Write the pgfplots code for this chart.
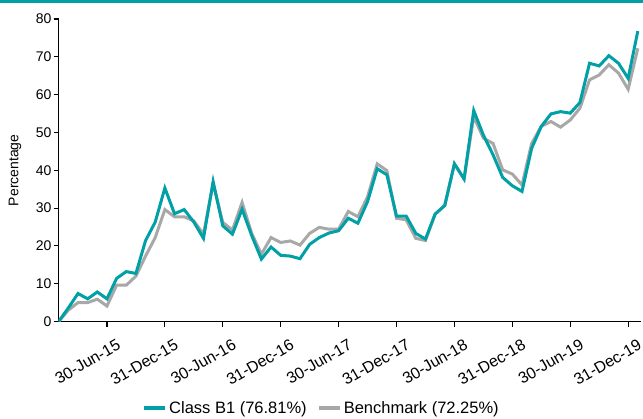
\documentclass[border=0pt]{standalone}
\usepackage{fontspec}
\setmainfont{Liberation Sans}
\usepackage{pgfplots}
\usepackage{pgfplotstable}
\pgfplotsset{compat=1.18}
\definecolor{tealc}{RGB}{0,160,166}
\definecolor{greyc}{RGB}{168,168,168}
\pgfplotstableread{
m classb bench
0 0 0
1 3.6 3.0
2 7.4 5.0
3 6.0 5.0
4 7.8 5.9
5 6.0 4.1
6 11.4 9.6
7 13.2 9.6
8 12.7 12.0
9 21.4 17.3
10 26.3 22.2
11 35.3 29.6
12 28.5 27.7
13 29.6 27.7
14 26.3 26.6
15 22.0 23.1
16 37.0 36.5
17 25.3 26.2
18 23.1 24.2
19 29.7 31.5
20 22.7 23.3
21 16.5 17.8
22 19.7 22.2
23 17.5 20.9
24 17.3 21.3
25 16.6 20.2
26 20.4 23.3
27 22.2 24.9
28 23.4 24.4
29 24.0 24.4
30 27.3 29.1
31 26.0 27.7
32 31.7 33.0
33 40.4 41.7
34 38.8 39.9
35 27.9 27.3
36 27.9 26.9
37 23.3 22.0
38 21.8 21.4
39 28.4 28.4
40 30.7 30.7
41 41.7 41.7
42 37.7 37.7
43 55.8 54.2
44 49.3 48.5
45 44.1 47.1
46 38.1 40.1
47 35.9 39.0
48 34.4 36.1
49 45.8 47.1
50 51.6 51.6
51 54.9 52.9
52 55.5 51.4
53 55.1 53.3
54 57.9 56.4
55 68.3 63.9
56 67.6 65.2
57 70.3 67.9
58 68.3 65.7
59 64.3 61.4
60 76.81 72.25
}\perf
\begin{document}
\begin{tikzpicture}[x=1pt,y=1pt]
\useasboundingbox (0,0) rectangle (643,418);
\fill[tealc] (0,415.3) rectangle (643,418);
\begin{axis}[
  at={(58.7pt,96.5pt)}, anchor=south west,
  scale only axis, width=582pt, height=302.5pt,
  xmin=0, xmax=60.3, ymin=0, ymax=80,
  axis x line*=bottom, axis y line*=left,
  axis line style={-, line width=1.3pt, black},
  tick align=outside, major tick length=5pt,
  tick style={line width=1.1pt, black},
  xtick={5,11,17,23,29,35,41,47,53,59},
  xticklabels={30-Jun-15,31-Dec-15,30-Jun-16,31-Dec-16,30-Jun-17,31-Dec-17,30-Jun-18,31-Dec-18,30-Jun-19,31-Dec-19},
  xticklabel style={rotate=30, anchor=north east, inner sep=0pt, yshift=-14.9pt, xshift=1.8pt, font=\fontsize{16}{18}\selectfont},
  ytick={0,10,...,80},
  yticklabel style={font=\fontsize{14}{16}\selectfont, inner sep=2pt},
  /pgf/number format/assume math mode=true,
  ylabel={Percentage},
  every axis y label/.style={at={(axis description cs:-0.0751,0.5)}, rotate=90, anchor=center, font=\fontsize{14}{16}\selectfont},
  legend style={at={(axis description cs:0.4515,-0.286)}, anchor=center, draw=none, fill=none,
    legend columns=2, font=\fontsize{16.5}{19}\selectfont,
    /tikz/every even column/.append style={column sep=8pt}},
  legend image code/.code={\draw[#1, line width=4pt] (0pt,0pt) -- (21pt,0pt);},
]
\addlegendimage{tealc}
\addlegendentry{Class B1 (76.81\%)}
\addlegendimage{greyc}
\addlegendentry{Benchmark (72.25\%)}
\addplot[greyc, line width=3pt, forget plot] table[x=m, y=bench] {\perf};
\addplot[tealc, line width=3pt, forget plot] table[x=m, y=classb] {\perf};
\end{axis}
\end{tikzpicture}
\end{document}
